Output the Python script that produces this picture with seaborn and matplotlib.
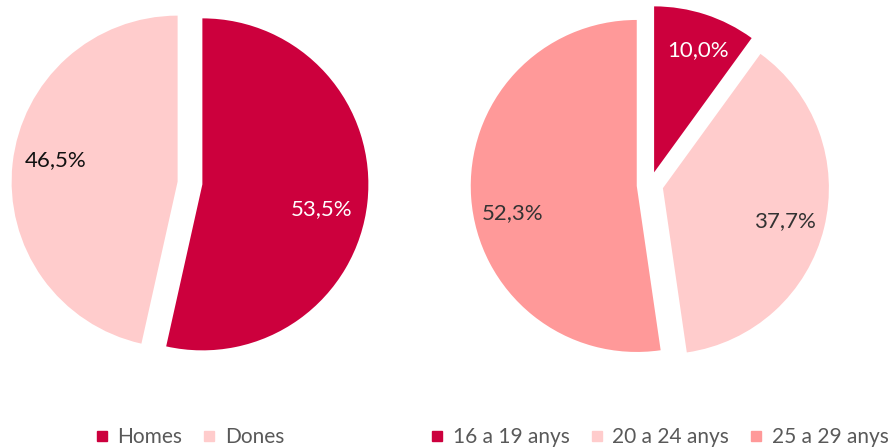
import matplotlib
matplotlib.use("Agg")
import matplotlib.pyplot as plt
from matplotlib.lines import Line2D
import seaborn as sns

# data
sexe_labels = ["Homes", "Dones"]
sexe_vals = [53.5, 46.5]
edat_labels = ["16 a 19 anys", "20 a 24 anys", "25 a 29 anys"]
edat_vals = [10.0, 37.7, 52.3]

sexe_colors = ["#CC003D", "#FFCCCC"]
edat_colors = ["#CC003D", "#FFCCCC", "#FF9999"]

# where the percentage labels sit (in units of the pie radius)
sexe_lbl_pos = [(0.79, -0.16), (-0.81, 0.14)]
edat_lbl_pos = [(0.29, 0.81), (0.81, -0.22), (-0.83, -0.17)]

sns.set_style("white")
plt.rcParams["font.family"] = ["Lato", "DejaVu Sans"]

W, H = 895, 447
fig = plt.figure(figsize=(W / 100, H / 100), dpi=100)
R = 166
k = 1.15
side = 2 * R * k


def make_ax(cx, cy):
    ax = fig.add_axes([(cx - side / 2) / W, (H - cy - side / 2) / H, side / W, side / H])
    ax.axis("off")
    return ax


def fix_lims(ax):
    ax.set_xlim(-k, k)
    ax.set_ylim(-k, k)
    ax.set_aspect("equal")


def fmt(p):
    return f"{p:.1f}".replace(".", ",") + "%"


ax1 = make_ax(190, 183)
w1, _, t1 = ax1.pie(sexe_vals, colors=sexe_colors, startangle=90, counterclock=False,
                    explode=[0.075] * 2, autopct=fmt,
                    wedgeprops=dict(linewidth=0))
fix_lims(ax1)
for t, c, p in zip(t1, ["white", "#111111"], sexe_lbl_pos):
    t.set_color(c)
    t.set_fontsize(16)
    t.set_position(p)

ax2 = make_ax(650, 185)
w2, _, t2 = ax2.pie(edat_vals, colors=edat_colors, startangle=90, counterclock=False,
                    explode=[0.08] * 3, autopct=fmt,
                    wedgeprops=dict(linewidth=0))
fix_lims(ax2)
for t, c, p in zip(t2, ["white", "#333333", "#333333"], edat_lbl_pos):
    t.set_color(c)
    t.set_fontsize(16)
    t.set_position(p)


def handles(labels, colors):
    return [Line2D([], [], marker="s", linestyle="", markersize=7,
                   markerfacecolor=c, markeredgecolor=c, label=l)
            for l, c in zip(labels, colors)]


leg_kw = dict(loc="center", ncol=3, frameon=False, fontsize=15,
              handlelength=0.6, handletextpad=0.45, columnspacing=1.0,
              labelcolor="#595959")
fig.legend(handles=handles(sexe_labels, sexe_colors), bbox_to_anchor=(190 / W, 1 - 437 / H), **leg_kw)
fig.legend(handles=handles(edat_labels, edat_colors), bbox_to_anchor=(660 / W, 1 - 437 / H), **leg_kw)

fig.savefig("out.png", dpi=100)
